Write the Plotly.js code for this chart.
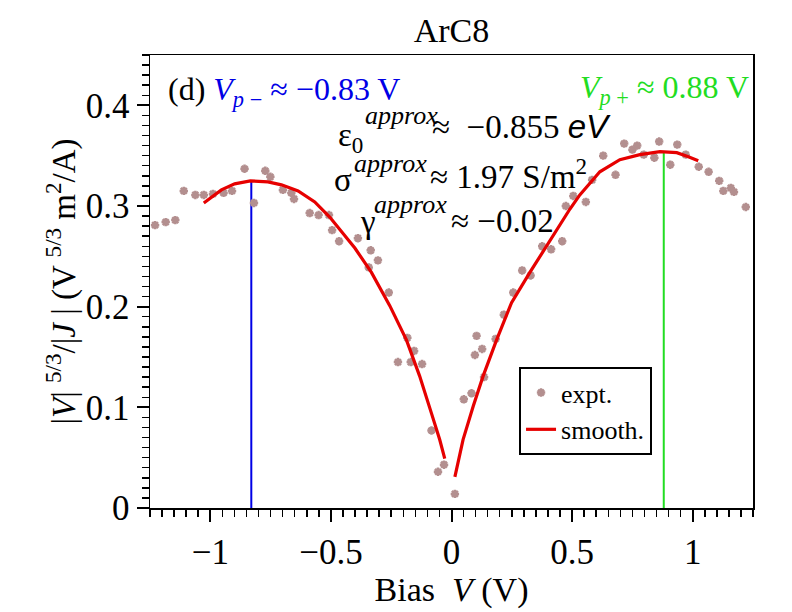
<!DOCTYPE html>
<html>
<head>
<meta charset="utf-8">
<script src="https://cdn.plot.ly/plotly-3.0.1.min.js"></script>
<style>
  html, body { margin: 0; padding: 0; background: #fff; }
  #chart { width: 792px; height: 612px; }
</style>
</head>
<body>
<div id="chart"></div>
<script>
// measured points (bias V, |V|^{5/3}/|J|)
const exptV = [-1.229, -1.185, -1.145, -1.110, -1.062, -1.027, -0.989, -0.945, -0.910, -0.858,
  -0.819, -0.772, -0.751, -0.699, -0.664, -0.653, -0.588, -0.551, -0.508, -0.495,
  -0.466, -0.388, -0.343, -0.335, -0.305, -0.260, -0.222, -0.183, -0.169, -0.155,
  -0.122, -0.083, -0.056, -0.031, 0.014, 0.051, 0.083, 0.097, 0.104, 0.127,
  0.135, 0.183, 0.217, 0.256, 0.293, 0.328, 0.376, 0.413, 0.459, 0.474,
  0.505, 0.557, 0.583, 0.629, 0.680, 0.716, 0.750, 0.770, 0.797, 0.841,
  0.861, 0.907, 0.936, 0.971, 1.025, 1.066, 1.110, 1.127, 1.158, 1.171, 1.220];
const exptY = [0.281, 0.284, 0.286, 0.315, 0.311, 0.311, 0.312, 0.313, 0.315, 0.337,
  0.303, 0.335, 0.329, 0.316, 0.313, 0.307, 0.293, 0.291, 0.291, 0.276,
  0.265, 0.268, 0.239, 0.256, 0.246, 0.214, 0.145, 0.169, 0.145, 0.156,
  0.143, 0.077, 0.036, 0.043, 0.014, 0.108, 0.114, 0.152, 0.171, 0.158,
  0.130, 0.168, 0.192, 0.214, 0.236, 0.231, 0.260, 0.257, 0.265, 0.300,
  0.310, 0.304, 0.326, 0.350, 0.331, 0.362, 0.356, 0.360, 0.351, 0.348,
  0.364, 0.341, 0.361, 0.351, 0.339, 0.334, 0.325, 0.315, 0.318, 0.314, 0.299];

// smoothed curve, two branches split by a gap at V = 0
const smoothV = [-1.027, -0.954, -0.899, -0.834, -0.761, -0.705, -0.636, -0.567, -0.505, -0.443,
  -0.400, -0.332, -0.256, -0.187, -0.132, -0.083, -0.049, -0.028, null,
  0.014, 0.048, 0.090, 0.131, 0.187, 0.249, 0.325, 0.408, 0.449, 0.491,
  0.532, 0.615, 0.698, 0.781, 0.864, 0.934, 0.982, 1.023];
const smoothY = [0.303, 0.316, 0.322, 0.325, 0.324, 0.321, 0.315, 0.304, 0.289, 0.270,
  0.258, 0.234, 0.201, 0.167, 0.131, 0.094, 0.068, 0.049, null,
  0.031, 0.068, 0.101, 0.131, 0.167, 0.204, 0.234, 0.266, 0.281, 0.297,
  0.311, 0.334, 0.346, 0.351, 0.354, 0.353, 0.349, 0.345];

// peak positions and the curve height there
const peakV = [-0.83, 0.88];
const peakY = [0.325, 0.354];

const SERIF = 'Liberation Serif';
const BLUE = '#0000e6';
const GREEN = '#22dd22';

const traces = [
  {
    x: [peakV[0], peakV[0]], y: [0, peakY[0]],
    mode: 'lines', line: { color: BLUE, width: 2 },
    showlegend: false, hoverinfo: 'skip'
  },
  {
    x: [peakV[1], peakV[1]], y: [0, peakY[1]],
    mode: 'lines', line: { color: GREEN, width: 2 },
    showlegend: false, hoverinfo: 'skip'
  },
  {
    x: exptV, y: exptY, name: 'expt.',
    type: 'scatter', mode: 'markers',
    marker: { symbol: 'asterisk-open', size: 7, color: '#b38f8f', line: { color: '#b38f8f', width: 2.5 } }
  },
  {
    x: smoothV, y: smoothY, name: 'smooth.',
    type: 'scatter', mode: 'lines', connectgaps: false,
    line: { color: '#e60000', width: 3.2 }
  }
];

// text pieces placed in data coordinates
function txt(x, y, text, size, color, extra) {
  return Object.assign({
    x, y, xref: 'x', yref: 'y', text, showarrow: false,
    xanchor: 'left', yanchor: 'middle',
    font: { family: SERIF, size, color: color || '#000' }
  }, extra || {});
}

const annotations = [
  txt(-1.182, 0.414, '(d) <span style="color:' + BLUE + '"><i>V</i><sub><i>p</i> −</sub> ≈ −0.83 V</span>', 32),
  txt(0.526, 0.416, '<i>V</i><sub><i>p</i> +</sub> ≈ 0.88 V', 32, GREEN),

  txt(-0.478, 0.368, 'ε<sub>0</sub>', 33),
  txt(-0.365, 0.390, '<i>approx</i>', 26),
  txt(-0.090, 0.379, '≈  −0.855 <span style="font-family:\'Liberation Sans\'"><i>eV</i></span>', 33),

  txt(-0.497, 0.326, 'σ', 33),
  txt(-0.412, 0.342, '<i>approx</i>', 26),
  txt(-0.098, 0.332, '≈ 1.97 S/m<sup>2</sup>', 33),

  txt(-0.389, 0.284, 'γ', 33),
  txt(-0.330, 0.301, '<i>approx</i>', 26),
  txt(-0.010, 0.285, '≈ −0.02', 33)
];

const layout = {
  width: 792, height: 612,
  paper_bgcolor: '#fff', plot_bgcolor: '#fff',
  margin: { l: 150, r: 39, t: 55, b: 104 },
  font: { family: SERIF, size: 34, color: '#000' },
  title: {
    text: 'ArC8', font: { family: SERIF, size: 34, color: '#000' },
    x: 0.5, xanchor: 'center', xref: 'paper', y: 0.951, yanchor: 'middle'
  },
  xaxis: {
    range: [-1.25, 1.25], dtick: 0.5, tick0: 0,
    showgrid: false, zeroline: false,
    showline: true, linecolor: '#000', linewidth: 1.5, mirror: true,
    ticks: 'outside', ticklen: 12, tickwidth: 2, tickcolor: '#000',
    minor: { dtick: 0.05, ticks: 'outside', ticklen: 7, tickwidth: 1.5, tickcolor: '#000' },
    tickfont: { family: SERIF, size: 35 },
    title: { text: 'Bias  <i>V</i> (V)', font: { family: SERIF, size: 34 }, standoff: 0 }
  },
  yaxis: {
    range: [0, 0.45], dtick: 0.1, tick0: 0,
    showgrid: false, zeroline: false,
    showline: true, linecolor: '#000', linewidth: 1.5, mirror: true,
    ticks: 'outside', ticklen: 12, tickwidth: 2, tickcolor: '#000',
    minor: { dtick: 0.01, ticks: 'outside', ticklen: 7, tickwidth: 1.5, tickcolor: '#000' },
    tickfont: { family: SERIF, size: 35 },
    title: {
      text: '|<i>V</i>| <sup>5/3</sup>/|<i>J</i> | (V <sup>5/3</sup> m<sup>2</sup>/A)',
      font: { family: SERIF, size: 33 }, standoff: 0
    }
  },
  legend: {
    x: 0.612, y: 0.311, xanchor: 'left', yanchor: 'top',
    bgcolor: '#fff', bordercolor: '#000', borderwidth: 2,
    font: { family: SERIF, size: 26, color: '#000' },
    tracegroupgap: 0
  },
  annotations
};

Plotly.newPlot('chart', traces, layout, { displayModeBar: false, staticPlot: true });
</script>
</body>
</html>
